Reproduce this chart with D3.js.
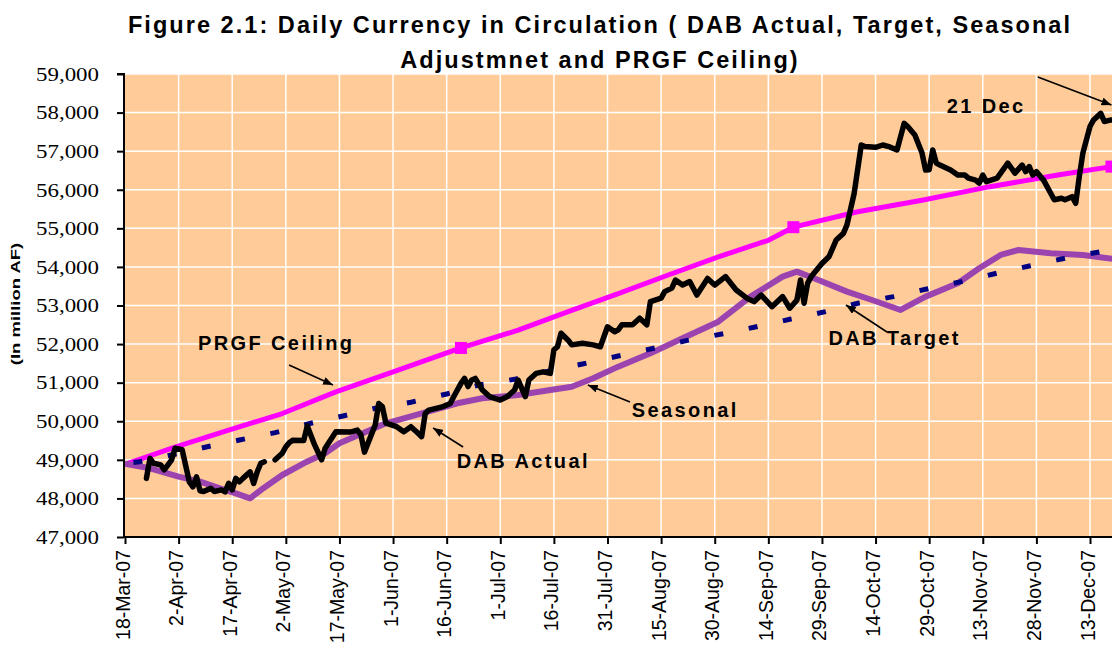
<!DOCTYPE html>
<html>
<head>
<meta charset="utf-8">
<script src="https://cdn.jsdelivr.net/npm/d3@7"></script>
<style>
  html, body { margin: 0; padding: 0; background: #ffffff; }
  svg { display: block; }
</style>
</head>
<body>
<svg id="chart" width="1112" height="650"></svg>
<script>
// ---------------- DATA ----------------
const titleLines = [
  "Figure 2.1: Daily Currency in Circulation ( DAB Actual, Target, Seasonal",
  "Adjustmnet and PRGF Ceiling)"
];
const yAxisLabel = "(In million AF)";
const yTicks = [47000, 48000, 49000, 50000, 51000, 52000, 53000, 54000, 55000, 56000, 57000, 58000, 59000];
const xTickLabels = ["18-Mar-07","2-Apr-07","17-Apr-07","2-May-07","17-May-07","1-Jun-07","16-Jun-07",
  "1-Jul-07","16-Jul-07","31-Jul-07","15-Aug-07","30-Aug-07","14-Sep-07","29-Sep-07","14-Oct-07",
  "29-Oct-07","13-Nov-07","28-Nov-07","13-Dec-07"];
const xDomain = ["2007-03-18", "2007-12-21"];

// DAB Actual (null = gap in the series)
const actual = [
  ["2007-03-24",48520],["2007-03-25",49040],["2007-03-26",48910],["2007-03-28",48870],["2007-03-29",48740],
  ["2007-03-31",48990],["2007-04-01",49300],["2007-04-03",49260],["2007-04-05",48430],["2007-04-06",48300],
  ["2007-04-07",48560],["2007-04-08",48200],["2007-04-09",48180],["2007-04-11",48260],["2007-04-12",48180],
  ["2007-04-14",48220],["2007-04-15",48170],["2007-04-16",48390],["2007-04-17",48220],["2007-04-18",48520],
  ["2007-04-19",48430],["2007-04-20",48520],["2007-04-22",48690],["2007-04-23",48390],["2007-04-24",48690],
  ["2007-04-25",48910],["2007-04-26",48950],["2007-04-27",null],["2007-04-29",49000],["2007-05-01",49170],
  ["2007-05-02",49340],["2007-05-03",49450],["2007-05-04",49510],["2007-05-07",49500],["2007-05-08",49880],
  ["2007-05-10",49400],["2007-05-12",49000],["2007-05-13",49300],["2007-05-16",49730],["2007-05-20",49720],
  ["2007-05-22",49770],["2007-05-23",49650],["2007-05-24",49200],["2007-05-27",49900],["2007-05-28",50460],
  ["2007-05-29",50380],["2007-05-30",49950],["2007-06-02",49860],["2007-06-04",49730],["2007-06-06",49860],
  ["2007-06-08",49690],["2007-06-09",49600],["2007-06-10",50200],["2007-06-11",50290],["2007-06-15",50380],
  ["2007-06-17",50460],["2007-06-18",50640],["2007-06-20",50980],["2007-06-21",51110],["2007-06-22",50900],
  ["2007-06-23",51070],["2007-06-24",51110],["2007-06-26",50810],["2007-06-28",50640],["2007-07-01",50550],
  ["2007-07-03",50640],["2007-07-05",50810],["2007-07-06",51070],["2007-07-08",50640],["2007-07-09",51070],
  ["2007-07-11",51240],["2007-07-13",51280],["2007-07-15",51240],["2007-07-16",51850],["2007-07-17",51930],
  ["2007-07-18",52280],["2007-07-20",52100],["2007-07-21",51980],["2007-07-24",52020],["2007-07-27",51980],
  ["2007-07-29",51930],["2007-07-31",52450],["2007-08-02",52320],["2007-08-03",52370],["2007-08-04",52500],
  ["2007-08-07",52500],["2007-08-09",52670],["2007-08-11",52500],["2007-08-12",53100],["2007-08-15",53190],
  ["2007-08-16",53360],["2007-08-18",53450],["2007-08-19",53660],["2007-08-21",53530],["2007-08-23",53620],
  ["2007-08-25",53270],["2007-08-28",53700],["2007-08-30",53530],["2007-09-02",53750],["2007-09-05",53400],
  ["2007-09-08",53190],["2007-09-10",53100],["2007-09-12",53270],["2007-09-15",52970],["2007-09-18",53230],
  ["2007-09-20",52930],["2007-09-22",53140],["2007-09-23",53660],["2007-09-24",53060],["2007-09-25",53580],
  ["2007-09-26",53750],["2007-09-29",54090],["2007-10-01",54270],["2007-10-03",54700],["2007-10-05",54870],
  ["2007-10-06",55090],["2007-10-08",55900],["2007-10-10",57160],["2007-10-11",57120],["2007-10-14",57100],
  ["2007-10-16",57160],["2007-10-18",57110],["2007-10-20",57030],["2007-10-22",57720],["2007-10-23",57640],
  ["2007-10-25",57420],["2007-10-27",56950],["2007-10-28",56510],["2007-10-29",56520],["2007-10-30",57030],
  ["2007-10-31",56690],["2007-11-01",56640],["2007-11-04",56510],["2007-11-06",56380],["2007-11-08",56380],
  ["2007-11-09",56300],["2007-11-11",56250],["2007-11-12",56170],["2007-11-13",56380],["2007-11-14",56210],
  ["2007-11-17",56300],["2007-11-20",56690],["2007-11-22",56430],["2007-11-24",56640],["2007-11-25",56470],
  ["2007-11-26",56600],["2007-11-27",56380],["2007-11-28",56470],["2007-11-30",56250],["2007-12-02",55910],
  ["2007-12-03",55740],["2007-12-05",55780],["2007-12-06",55740],["2007-12-08",55820],["2007-12-09",55650],
  ["2007-12-10",56340],["2007-12-11",56950],["2007-12-13",57640],["2007-12-14",57810],["2007-12-16",57980],
  ["2007-12-17",57770],["2007-12-19",57810],["2007-12-20",57800]
];

// DAB Target
const target = [
  ["2007-03-18",48900],["2007-03-22",48950],["2007-03-31",49125],["2007-04-10",49340],["2007-04-19",49514],
  ["2007-04-29",49705],["2007-05-09",49947],["2007-05-18",50136],["2007-05-27",50336],["2007-06-06",50491],
  ["2007-06-16",50707],["2007-06-25",50940],["2007-07-05",51087],["2007-07-15",51311],["2007-07-24",51484],
  ["2007-08-03",51691],["2007-08-12",51873],["2007-08-22",52089],["2007-09-01",52262],["2007-09-10",52436],
  ["2007-09-20",52643],["2007-09-30",52840],["2007-10-09",53057],["2007-10-19",53230],["2007-10-28",53420],
  ["2007-11-07",53618],["2007-11-16",53817],["2007-11-26",54025],["2007-12-06",54224],["2007-12-16",54395],
  ["2007-12-20",54480]
];

// Seasonal adjustment
const seasonal = [
  ["2007-03-18",48900],["2007-03-25",48780],["2007-04-02",48563],["2007-04-08",48434],["2007-04-15",48218],
  ["2007-04-18",48132],["2007-04-22",48003],["2007-04-25",48218],["2007-05-01",48607],["2007-05-07",48910],
  ["2007-05-13",49170],["2007-05-17",49428],["2007-05-30",49947],["2007-06-09",50206],["2007-06-19",50466],
  ["2007-06-26",50596],["2007-07-06",50680],["2007-07-15",50810],["2007-07-21",50896],["2007-07-27",51113],
  ["2007-08-03",51415],["2007-08-12",51760],["2007-08-21",52150],["2007-08-31",52581],["2007-09-09",53230],
  ["2007-09-18",53748],["2007-09-22",53877],["2007-09-28",53662],["2007-10-06",53360],["2007-10-13",53143],
  ["2007-10-21",52884],["2007-10-28",53230],["2007-11-06",53576],["2007-11-12",53964],["2007-11-18",54310],
  ["2007-11-23",54439],["2007-12-02",54353],["2007-12-11",54310],["2007-12-20",54200]
];

// PRGF Ceiling
const prgf = [
  ["2007-03-18",48880],["2007-04-01",49330],["2007-04-16",49770],["2007-05-01",50200],["2007-05-16",50760],
  ["2007-06-01",51280],["2007-06-20",51900],["2007-07-06",52360],["2007-07-20",52840],["2007-08-03",53310],
  ["2007-08-17",53790],["2007-08-31",54260],["2007-09-14",54690],["2007-09-21",55030],["2007-10-09",55430],
  ["2007-10-27",55730],["2007-11-15",56080],["2007-12-04",56380],["2007-12-19",56600]
];
const prgfMarkerDates = ["2007-06-20","2007-09-21","2007-12-19"];

// Annotations: [text, days after 18-Mar-07 at text start, value at baseline]
const labels = [
  ["PRGF Ceiling", 20.4, 51834],
  ["Seasonal", 141.8, 50123],
  ["DAB Target", 196.8, 51977],
  ["DAB Actual", 92.8, 48788],
  ["21 Dec", 229.9, 57990]
];
// Arrows: [fromDay, fromValue, toDay, toValue] (days after 18-Mar-07)
const arrows = [
  [45.9, 51458, 58.2, 50940],
  [141.3, 50499, 129.5, 50940],
  [213.2, 52314, 201.7, 53013],
  [94.6, 49333, 86.2, 49825],
  [255.4, 58923, 276.0, 58197]
];

// ---------------- CHART ----------------
const parse = d3.timeParse("%Y-%m-%d");
const tickFmt = d3.timeFormat("%-d-%b-%y");
const svg = d3.select("#chart");
const pLeft = 125, pRight = 1118.6, pTop = 74, pBottom = 537;
const start = parse(xDomain[0]);
const x = d3.scaleTime().domain(xDomain.map(parse)).range([pLeft, pRight]);
const y = d3.scaleLinear().domain([47000, 59000]).range([pBottom, pTop]);
const dayX = d => x(new Date(start.getTime() + d * 864e5));

const toPts = arr => arr.map(([d, v]) => ({date: parse(d), value: v}));
const xTickDates = xTickLabels.map(s => d3.timeParse("%d-%b-%y")(s));

// plot background
svg.append("rect").attr("x", pLeft).attr("y", pTop)
  .attr("width", pRight - pLeft).attr("height", pBottom - pTop).attr("fill", "#FFCC99");

// grid
const grid = svg.append("g");
grid.selectAll("line.h").data(yTicks.slice(1)).join("line")
  .attr("x1", pLeft).attr("x2", pRight).attr("y1", d => y(d)).attr("y2", d => y(d))
  .attr("stroke", "#ffffff").attr("stroke-width", 1.5);
grid.selectAll("line.v").data(xTickDates.slice(1)).join("line")
  .attr("x1", d => x(d)).attr("x2", d => x(d)).attr("y1", pTop).attr("y2", pBottom)
  .attr("stroke", "#ffffff").attr("stroke-width", 1.5);

// series
const line = d3.line().defined(d => d.value !== null)
  .x(d => x(d.date)).y(d => y(d.value));

const prgfPts = toPts(prgf);
svg.append("path").datum(prgfPts).attr("d", line)
  .attr("fill", "none").attr("stroke", "#FF00FF").attr("stroke-width", 5)
  .attr("stroke-linejoin", "round");
svg.append("g").selectAll("rect")
  .data(prgfMarkerDates.map(parse).map(d => prgfPts.find(q => +q.date === +d))).join("rect")
  .attr("x", d => x(d.date) - 6).attr("y", d => y(d.value) - 6)
  .attr("width", 12).attr("height", 12).attr("fill", "#FF00FF");

svg.append("path").datum(toPts(seasonal)).attr("d", line)
  .attr("fill", "none").attr("stroke", "#9B44B0").attr("stroke-width", 6)
  .attr("stroke-linejoin", "round");

svg.append("path").datum(toPts(target)).attr("d", line)
  .attr("fill", "none").attr("stroke", "#000080").attr("stroke-width", 5)
  .attr("stroke-dasharray", "9,26").attr("stroke-dashoffset", 26.5);

svg.append("path").datum(toPts(actual)).attr("d", line)
  .attr("fill", "none").attr("stroke", "#000000").attr("stroke-width", 5.5)
  .attr("stroke-linejoin", "round").attr("stroke-linecap", "round");

// axes
const yAxis = svg.append("g").attr("transform", `translate(${pLeft - 1},0)`)
  .call(d3.axisLeft(y).tickValues(yTicks).tickFormat(d3.format(",")).tickSize(7).tickPadding(18));
yAxis.attr("font-family", null).attr("font-size", null);
yAxis.select(".domain").attr("stroke", "#000").attr("stroke-width", 2).attr("d", `M-7,${pTop}H0V${pBottom}`);
yAxis.selectAll(".tick line").attr("stroke", "#000").attr("stroke-width", 2);
yAxis.selectAll(".tick text")
  .style("font-family", "'Liberation Serif', 'Times New Roman', serif")
  .style("font-size", "19.5px").attr("fill", "#000")
  .attr("textLength", 63).attr("lengthAdjust", "spacingAndGlyphs");

const xAxis = svg.append("g").attr("transform", `translate(0,${pBottom})`)
  .call(d3.axisBottom(x).tickValues(xTickDates).tickFormat(tickFmt).tickSize(7));
xAxis.attr("font-family", null).attr("font-size", null);
xAxis.select(".domain").attr("stroke", "#000").attr("stroke-width", 2).attr("d", `M${pLeft - 2},0H${pRight}`);
xAxis.selectAll(".tick line").attr("stroke", "#000").attr("stroke-width", 2);
xAxis.selectAll(".tick text")
  .style("font-family", "'Liberation Sans', Arial, sans-serif").style("font-size", "19.5px").attr("fill", "#000")
  .attr("text-anchor", "end").attr("dy", null).attr("y", null)
  .attr("transform", "translate(4,13) rotate(-90)");

// y label
svg.append("text").text(yAxisLabel)
  .attr("transform", "translate(20,304) rotate(-90) scale(1,0.72)")
  .attr("text-anchor", "middle")
  .attr("font-family", "'Liberation Sans', Arial, sans-serif").attr("font-weight", "bold")
  .attr("font-size", 18.5).attr("fill", "#000");

// title
svg.append("g").selectAll("text").data(titleLines).join("text")
  .attr("x", 600).attr("y", (d, i) => 33 + i * 35).attr("text-anchor", "middle")
  .attr("font-family", "'Liberation Sans', Arial, sans-serif").attr("font-weight", "bold")
  .attr("font-size", 23.5).attr("letter-spacing", 2.05).attr("fill", "#000").text(d => d);

// annotations
svg.append("defs").append("marker").attr("id", "arrow")
  .attr("viewBox", "0 0 10 8").attr("refX", 10).attr("refY", 4)
  .attr("markerWidth", 10).attr("markerHeight", 8).attr("markerUnits", "userSpaceOnUse")
  .attr("orient", "auto")
  .append("path").attr("d", "M0,0L10,4L0,8Z").attr("fill", "#000");

svg.append("g").selectAll("line").data(arrows).join("line")
  .attr("x1", d => dayX(d[0])).attr("y1", d => y(d[1]))
  .attr("x2", d => dayX(d[2])).attr("y2", d => y(d[3]))
  .attr("stroke", "#000").attr("stroke-width", 1.6).attr("marker-end", "url(#arrow)");

svg.append("g").selectAll("text").data(labels).join("text")
  .attr("x", d => dayX(d[1])).attr("y", d => y(d[2]))
  .attr("font-family", "'Liberation Sans', Arial, sans-serif").attr("font-weight", "bold")
  .attr("font-size", 20).attr("letter-spacing", 2.4).attr("fill", "#000")
  .text(d => d[0]);
</script>
</body>
</html>
